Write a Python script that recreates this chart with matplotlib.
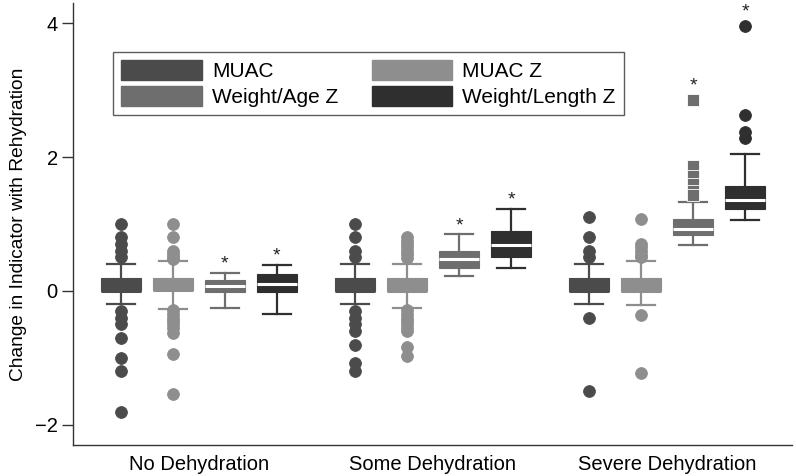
import matplotlib
matplotlib.use("Agg")
import matplotlib.pyplot as plt
from matplotlib.patches import Patch

plt.rcParams['font.family'] = ['Liberation Sans', 'DejaVu Sans']

groups = ["No Dehydration", "Some Dehydration", "Severe Dehydration"]
series = ["MUAC", "MUAC Z", "Weight/Age Z", "Weight/Length Z"]
colors = ["#4b4b4b", "#8e8e8e", "#6e6e6e", "#2f2f2f"]

# box statistics per series, one entry per group: (whislo, q1, med, q3, whishi)
muac_stats = [(-0.20, 0.00, 0.00, 0.20, 0.40),
              (-0.20, 0.00, 0.00, 0.20, 0.40),
              (-0.20, 0.00, 0.00, 0.20, 0.40)]
muacz_stats = [(-0.27, 0.01, 0.01, 0.19, 0.45),
               (-0.26, 0.00, 0.00, 0.19, 0.41),
               (-0.21, 0.00, 0.00, 0.19, 0.45)]
wa_stats = [(-0.25, -0.01, 0.07, 0.17, 0.27),
            (0.22, 0.34, 0.47, 0.60, 0.85),
            (0.69, 0.84, 0.92, 1.07, 1.33)]
wl_stats = [(-0.35, -0.01, 0.10, 0.25, 0.39),
            (0.35, 0.50, 0.69, 0.90, 1.23),
            (1.06, 1.23, 1.36, 1.57, 2.04)]

muac_out = [[1.0, 0.8, 0.7, 0.6, 0.5, -0.3, -0.4, -0.5, -0.7, -1.0, -1.2, -1.8],
            [1.0, 0.8, 0.6, 0.5, -0.3, -0.4, -0.5, -0.6, -0.8, -1.08, -1.2],
            [1.1, 0.8, 0.6, 0.5, -0.4, -1.5]]
muacz_out = [[1.0, 0.81, 0.6, 0.55, 0.5, 0.47, -0.29, -0.35, -0.4, -0.45, -0.5, -0.56, -0.63, -0.94, -1.54],
             [0.81, 0.75, 0.7, 0.65, 0.6, 0.55, 0.49, -0.29, -0.35, -0.4, -0.45, -0.5, -0.55, -0.6, -0.83, -0.97],
             [1.08, 0.70, 0.65, 0.59, 0.54, 0.50, -0.36, -1.23]]
wa_out = [[], [], [2.85, 1.86, 1.72, 1.6, 1.5, 1.43]]
wl_out = [[], [], [3.96, 2.63, 2.37, 2.29]]

significant = [False, False, True, True]

all_stats = [muac_stats, muacz_stats, wa_stats, wl_stats]
all_out = [muac_out, muacz_out, wa_out, wl_out]
markers = ["o", "o", "s", "o"]
show_median = [False, False, True, True]

fig = plt.figure(figsize=(7.96, 4.76), dpi=100)
ax = fig.add_axes([73/796, 31/476, 719/796, 442/476])

step = 0.2222
width = 0.171
for si in range(4):
    stats = []
    positions = []
    for gi in range(3):
        lo, q1, med, q3, hi = all_stats[si][gi]
        stats.append(dict(whislo=lo, q1=q1, med=med, q3=q3, whishi=hi,
                          fliers=all_out[si][gi]))
        positions.append(gi + (si - 1.5) * step)
    c = colors[si]
    ax.bxp(stats, positions=positions, widths=width, patch_artist=True,
           showfliers=True,
           boxprops=dict(facecolor=c, edgecolor=c, linewidth=0.8),
           whiskerprops=dict(color=c, linewidth=1.6),
           capprops=dict(color=c, linewidth=1.6),
           capwidths=width * 0.68,
           medianprops=dict(color="white" if show_median[si] else c, linewidth=2.2),
           flierprops=dict(marker=markers[si], markerfacecolor=c,
                           markeredgecolor="white" if markers[si] == "s" else c,
                           markeredgewidth=0.6,
                           markersize=8.5 if markers[si] == "o" else 8,
                           linestyle="none"))
    if significant[si]:
        for gi in range(3):
            top = max([all_stats[si][gi][4]] + all_out[si][gi])
            off = 0 if not all_out[si][gi] else 4
            ax.annotate("*", xy=(positions[gi], top), xytext=(0, off),
                        textcoords="offset points", ha="center", va="bottom",
                        fontsize=14, color="#222222")

ax.set_xlim(-0.538, 2.534)
ax.set_ylim(-2.30, 4.30)
ax.set_xticks([0, 1, 2])
ax.set_xticklabels(groups, fontsize=14.5)
ax.tick_params(axis="x", length=0, pad=7)
ax.set_yticks([-2, 0, 2, 4])
ax.set_yticklabels(["\u22122", "0", "2", "4"], fontsize=14.5)
ax.tick_params(axis="y", length=8, width=1, pad=3, color="#333333")
for s in ["top", "right"]:
    ax.spines[s].set_visible(False)
for s in ["left", "bottom"]:
    ax.spines[s].set_color("#333333")
    ax.spines[s].set_linewidth(1)
ax.set_ylabel("Change in Indicator with Rehydration", fontsize=13.8, labelpad=6)

handles = [Patch(facecolor=colors[i], edgecolor=colors[i]) for i in [0, 2, 1, 3]]
labels = [series[i] for i in [0, 2, 1, 3]]
leg = ax.legend(handles, labels, ncol=2, loc="upper left",
                bbox_to_anchor=(40/719, 393/442), borderaxespad=0,
                fontsize=15, handlelength=3.85, handleheight=1.05,
                handletextpad=0.5, columnspacing=1.6, labelspacing=0.25,
                borderpad=0.4, fancybox=False, frameon=True)
leg.get_frame().set_edgecolor("#333333")
leg.get_frame().set_linewidth(1)

fig.savefig("out.png", dpi=100)
